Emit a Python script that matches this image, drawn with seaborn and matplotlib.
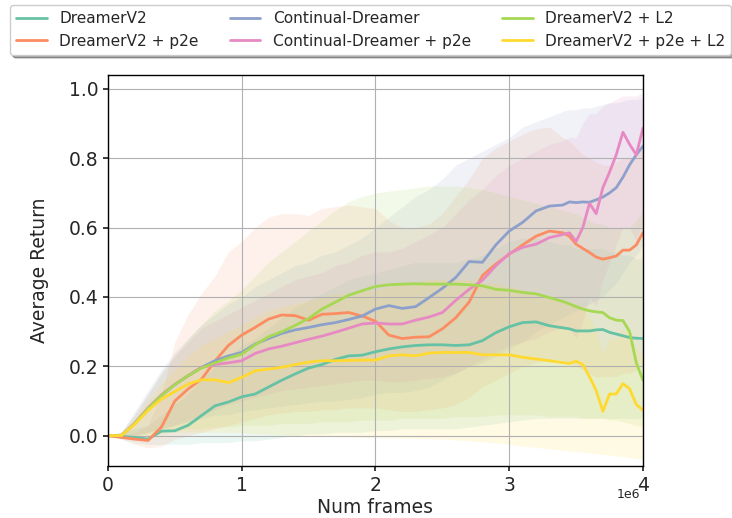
import numpy as np
import pandas as pd
import matplotlib
matplotlib.use("Agg")
import matplotlib.pyplot as plt
import seaborn as sns

# x positions in millions of frames
frames_m = [0.0, 0.1, 0.2, 0.3, 0.4, 0.5, 0.6, 0.7, 0.8, 0.9, 1.0, 1.1, 1.2, 1.3, 1.4,
            1.5, 1.6, 1.7, 1.8, 1.9, 2.0, 2.1, 2.2, 2.3, 2.4, 2.5, 2.6, 2.7, 2.8, 2.9,
            3.0, 3.1, 3.2, 3.3, 3.4, 3.45, 3.5, 3.55, 3.6, 3.65, 3.7, 3.75, 3.8, 3.85,
            3.9, 3.95, 4.0]
xtick_labels = ["0", "1", "2", "3", "4"]

methods = ["DreamerV2", "DreamerV2 + p2e", "Continual-Dreamer",
           "Continual-Dreamer + p2e", "DreamerV2 + L2", "DreamerV2 + p2e + L2"]

dv2_mean = [0, -0.002, -0.005, -0.01, 0.013, 0.014, 0.03, 0.058, 0.086, 0.097, 0.112, 0.12,
            0.14, 0.16, 0.178, 0.195, 0.205, 0.22, 0.23, 0.232, 0.242, 0.25, 0.256, 0.26,
            0.262, 0.262, 0.26, 0.262, 0.274, 0.297, 0.314, 0.326, 0.328, 0.317, 0.311,
            0.308, 0.302, 0.302, 0.302, 0.305, 0.306, 0.298, 0.293, 0.288, 0.283, 0.281, 0.28]
dv2_lo = [0, -0.01, -0.02, -0.025, -0.025, -0.025, -0.025, -0.02, -0.02, -0.02, -0.015, -0.015,
          -0.01, -0.005, 0.0, 0.005, 0.005, 0.01, 0.01, 0.01, 0.015, 0.015, 0.02, 0.02, 0.02,
          0.02, 0.02, 0.025, 0.03, 0.035, 0.04, 0.045, 0.05, 0.05, 0.05,
          0.05, 0.05, 0.05, 0.05, 0.05, 0.05, 0.05, 0.05, 0.05, 0.05, 0.05, 0.05]
dv2_hi = [0, 0.005, 0.02, 0.03, 0.06, 0.09, 0.12, 0.16, 0.2, 0.23, 0.26, 0.28, 0.31, 0.34,
          0.37, 0.39, 0.41, 0.43, 0.45, 0.46, 0.47, 0.48, 0.49, 0.5, 0.5, 0.5, 0.5, 0.51,
          0.52, 0.54, 0.56, 0.57, 0.57, 0.56, 0.55,
          0.55, 0.54, 0.54, 0.54, 0.54, 0.54, 0.53, 0.53, 0.52, 0.52, 0.51, 0.51]

p2e_mean = [0, -0.005, -0.01, -0.014, 0.025, 0.1, 0.135, 0.163, 0.215, 0.26, 0.29, 0.312,
            0.336, 0.348, 0.346, 0.333, 0.35, 0.352, 0.355, 0.345, 0.33, 0.29, 0.28, 0.284,
            0.285, 0.308, 0.34, 0.385, 0.462, 0.495, 0.523, 0.55, 0.575, 0.59, 0.585,
            0.575, 0.552, 0.54, 0.528, 0.515, 0.509, 0.513, 0.518, 0.535, 0.535, 0.55, 0.585]
p2e_lo = [0, -0.01, -0.025, -0.035, -0.03, -0.01, 0.0, 0.01, 0.02, 0.03, 0.04, 0.05, 0.06,
          0.065, 0.07, 0.07, 0.075, 0.075, 0.08, 0.08, 0.08, 0.075, 0.07, 0.07, 0.075, 0.08,
          0.09, 0.11, 0.14, 0.16, 0.18, 0.2, 0.21, 0.22, 0.22,
          0.21, 0.2, 0.19, 0.18, 0.17, 0.17, 0.17, 0.17, 0.18, 0.18, 0.19, 0.21]
p2e_hi = [0, 0.0, 0.01, 0.03, 0.12, 0.27, 0.35, 0.41, 0.46, 0.53, 0.56, 0.6, 0.63, 0.64,
          0.64, 0.635, 0.655, 0.66, 0.665, 0.66, 0.655, 0.62, 0.6, 0.6, 0.61, 0.64, 0.69,
          0.74, 0.8, 0.83, 0.85, 0.87, 0.885, 0.89, 0.86,
          0.85, 0.83, 0.81, 0.8, 0.79, 0.78, 0.78, 0.79, 0.8, 0.8, 0.81, 0.83]

cd_mean = [0, 0.0, 0.035, 0.078, 0.116, 0.147, 0.173, 0.197, 0.216, 0.23, 0.24, 0.264, 0.28,
           0.295, 0.305, 0.312, 0.32, 0.326, 0.335, 0.345, 0.365, 0.375, 0.367, 0.372, 0.398,
           0.425, 0.456, 0.502, 0.5, 0.55, 0.59, 0.615, 0.648, 0.662, 0.665,
           0.674, 0.672, 0.674, 0.673, 0.68, 0.688, 0.7, 0.715, 0.745, 0.781, 0.81, 0.835]
cd_lo = [0, -0.005, 0.0, 0.01, 0.02, 0.03, 0.04, 0.05, 0.06, 0.06, 0.07, 0.075, 0.08, 0.085,
         0.09, 0.095, 0.1, 0.1, 0.105, 0.11, 0.12, 0.125, 0.125, 0.13, 0.14, 0.16, 0.18, 0.2,
         0.21, 0.23, 0.25, 0.27, 0.3, 0.32, 0.34,
         0.35, 0.36, 0.37, 0.38, 0.39, 0.4, 0.42, 0.44, 0.47, 0.5, 0.52, 0.55]
cd_hi = [0, 0.01, 0.07, 0.13, 0.19, 0.24, 0.28, 0.32, 0.35, 0.38, 0.4, 0.43, 0.45, 0.47, 0.49,
         0.5, 0.52, 0.53, 0.55, 0.57, 0.6, 0.63, 0.66, 0.69, 0.71, 0.74, 0.78, 0.8, 0.82, 0.84,
         0.86, 0.89, 0.905, 0.92, 0.935,
         0.94, 0.94, 0.945, 0.945, 0.95, 0.955, 0.96, 0.96, 0.965, 0.97, 0.97, 0.975]

cdp_mean = [0, 0.0, 0.035, 0.08, 0.118, 0.148, 0.173, 0.197, 0.205, 0.21, 0.216, 0.237, 0.25,
            0.258, 0.268, 0.278, 0.287, 0.298, 0.31, 0.322, 0.325, 0.322, 0.322, 0.333, 0.342,
            0.355, 0.39, 0.422, 0.448, 0.49, 0.525, 0.543, 0.552, 0.571, 0.58,
            0.585, 0.56, 0.6, 0.67, 0.64, 0.715, 0.76, 0.81, 0.875, 0.84, 0.81, 0.887]
cdp_lo = [0, -0.005, 0.0, 0.01, 0.02, 0.03, 0.045, 0.06, 0.075, 0.09, 0.1, 0.11, 0.12, 0.13,
          0.135, 0.14, 0.145, 0.15, 0.155, 0.16, 0.16, 0.155, 0.155, 0.16, 0.165, 0.17, 0.18,
          0.2, 0.22, 0.24, 0.26, 0.27, 0.28, 0.3, 0.31,
          0.31, 0.28, 0.33, 0.4, 0.37, 0.45, 0.5, 0.55, 0.6, 0.6, 0.56, 0.62]
cdp_hi = [0, 0.01, 0.06, 0.12, 0.18, 0.23, 0.27, 0.31, 0.33, 0.35, 0.37, 0.39, 0.41, 0.43,
          0.45, 0.46, 0.47, 0.49, 0.5, 0.52, 0.53, 0.53, 0.54, 0.56, 0.58, 0.6, 0.64, 0.68,
          0.71, 0.75, 0.78, 0.8, 0.82, 0.84, 0.85,
          0.86, 0.86, 0.9, 0.93, 0.93, 0.95, 0.96, 0.97, 0.98, 0.98, 0.98, 0.99]

l2_mean = [0, 0.0, 0.035, 0.078, 0.116, 0.147, 0.173, 0.195, 0.21, 0.224, 0.235, 0.262, 0.285,
           0.3, 0.318, 0.338, 0.365, 0.385, 0.405, 0.418, 0.43, 0.435, 0.437, 0.438, 0.437,
           0.437, 0.437, 0.435, 0.432, 0.422, 0.419, 0.413, 0.409, 0.398, 0.387,
           0.38, 0.372, 0.365, 0.36, 0.357, 0.355, 0.34, 0.333, 0.332, 0.3, 0.21, 0.16]
l2_lo = [0, -0.005, 0.0, 0.005, 0.01, 0.015, 0.02, 0.02, 0.025, 0.025, 0.03, 0.03, 0.03, 0.035,
         0.035, 0.035, 0.04, 0.04, 0.04, 0.045, 0.045, 0.045, 0.05, 0.05, 0.05, 0.05, 0.055,
         0.055, 0.055, 0.06, 0.06, 0.06, 0.06, 0.055, 0.055,
         0.055, 0.055, 0.05, 0.05, 0.05, 0.05, 0.045, 0.045, 0.04, 0.035, 0.03, 0.025]
l2_hi = [0, 0.01, 0.06, 0.12, 0.18, 0.23, 0.28, 0.32, 0.36, 0.39, 0.42, 0.46, 0.5, 0.53, 0.56,
         0.59, 0.62, 0.65, 0.675, 0.69, 0.7, 0.705, 0.71, 0.715, 0.72, 0.72, 0.72, 0.715,
         0.71, 0.7, 0.69, 0.68, 0.67, 0.66, 0.65,
         0.645, 0.64, 0.63, 0.62, 0.61, 0.61, 0.6, 0.6, 0.6, 0.6, 0.62, 0.65]

p2el2_mean = [0, 0.0, 0.033, 0.073, 0.106, 0.127, 0.149, 0.161, 0.161, 0.153, 0.168, 0.187,
              0.192, 0.197, 0.205, 0.212, 0.216, 0.216, 0.217, 0.218, 0.218, 0.23, 0.233,
              0.23, 0.238, 0.24, 0.24, 0.24, 0.233, 0.233, 0.233, 0.226, 0.221, 0.216, 0.211,
              0.208, 0.215, 0.205, 0.17, 0.13, 0.07, 0.12, 0.12, 0.15, 0.135, 0.09, 0.073]
p2el2_lo = [0, -0.005, -0.005, 0.0, 0.005, 0.01, 0.01, 0.01, 0.01, 0.01, 0.008, 0.006, 0.004,
            0.002, 0.0, 0.0, -0.002, -0.003, -0.004, -0.005, -0.005, -0.006, -0.007, -0.008,
            -0.009, -0.01, -0.012, -0.015, -0.018, -0.021, -0.025, -0.03, -0.034, -0.038, -0.042,
            -0.044, -0.046, -0.048, -0.05, -0.052, -0.054, -0.056, -0.058, -0.06, -0.063, -0.066, -0.07]
p2el2_hi = [0, 0.005, 0.05, 0.1, 0.15, 0.19, 0.23, 0.26, 0.28, 0.3, 0.32, 0.34, 0.36, 0.37,
            0.38, 0.39, 0.4, 0.41, 0.41, 0.42, 0.42, 0.43, 0.44, 0.44, 0.45, 0.45, 0.45, 0.45,
            0.44, 0.44, 0.43, 0.42, 0.41, 0.4, 0.39,
            0.385, 0.38, 0.37, 0.34, 0.3, 0.24, 0.28, 0.28, 0.31, 0.29, 0.25, 0.23]

means = [dv2_mean, p2e_mean, cd_mean, cdp_mean, l2_mean, p2el2_mean]
lows = [dv2_lo, p2e_lo, cd_lo, cdp_lo, l2_lo, p2el2_lo]
highs = [dv2_hi, p2e_hi, cd_hi, cdp_hi, l2_hi, p2el2_hi]

frames = np.array(frames_m) * 1e6

# long format for seaborn
df = pd.concat(
    [pd.DataFrame({"frames": frames, "ret": m, "method": name}) for name, m in zip(methods, means)],
    ignore_index=True,
)

sns.set_theme(style="ticks", rc={
    "axes.grid": True,
    "grid.color": "#b0b0b0",
    "grid.linewidth": 0.8,
    "axes.edgecolor": "black",
    "axes.linewidth": 1.0,
    "axes.axisbelow": "line",
    "xtick.major.size": 3.5,
    "ytick.major.size": 3.5,
})
plt.rcParams["font.family"] = ["DejaVu Sans"]

palette = sns.color_palette("Set2", 6)

fig = plt.figure(figsize=(7.32, 5.18), dpi=100)
ax = fig.add_axes([0.1475, 0.1004, 0.7309, 0.7548])

for color, lo, hi in zip(palette, lows, highs):
    ax.fill_between(frames, lo, hi, color=color, alpha=0.13, linewidth=0)

sns.lineplot(data=df, x="frames", y="ret", hue="method", hue_order=methods,
             palette=palette, linewidth=2, errorbar=None, ax=ax)

handles, labels = ax.get_legend_handles_labels()
ax.get_legend().remove()
fig.legend(handles, labels, ncol=3, loc="upper left", bbox_to_anchor=(10 / 732, 1 - 5 / 518),
           borderaxespad=0, fontsize=11.1, shadow=True, frameon=True)

ax.set_xlim(0, 4e6)
ax.set_ylim(-0.0875, 1.04)
ax.set_xticks([0, 1e6, 2e6, 3e6, 4e6])
ax.set_xticklabels(xtick_labels)
ax.set_yticks([0.0, 0.2, 0.4, 0.6, 0.8, 1.0])
ax.tick_params(labelsize=13.5)
ax.set_xlabel("Num frames", fontsize=13.5, labelpad=2.5)
ax.set_ylabel("Average Return", fontsize=13.5, labelpad=14)
# scale marker like matplotlib's offset text
ax.text(0.995, -0.057, "1e6", transform=ax.transAxes, ha="right", va="top", fontsize=9)

fig.savefig("out.png", dpi=100)
